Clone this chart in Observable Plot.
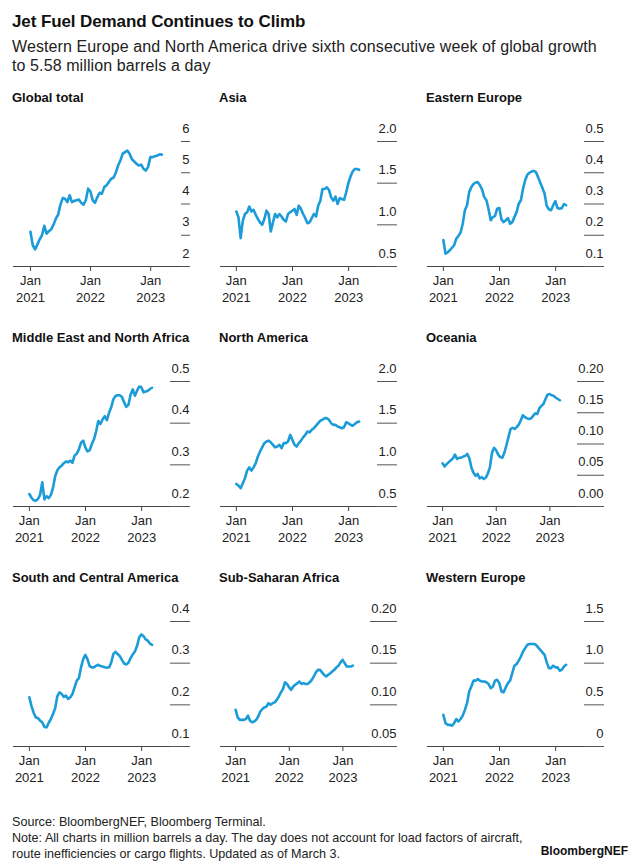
<!DOCTYPE html>
<html><head><meta charset="utf-8">
<script src="https://cdn.jsdelivr.net/npm/d3@7"></script>
<script src="https://cdn.jsdelivr.net/npm/@observablehq/plot@0.6"></script>
<style>
body{margin:0;background:#fff;}
#chart{position:relative;width:640px;height:865px;background:#fff;font-family:"Liberation Sans",Arial,sans-serif;color:#111;}
.abs{position:absolute;white-space:nowrap;}
</style></head>
<body><div id="chart"></div>
<script>
// ---- data (million barrels a day), biweekly readings from 1 Jan 2021 ----
const startDate = "2021-01-01";
const stepDays = 14;
const regionNames = ["Global total","Asia","Eastern Europe","Middle East and North Africa","North America","Oceania","South and Central America","Sub-Saharan Africa","Western Europe"];
const globalTotal = [3.11,2.68,2.55,2.70,2.87,3.00,3.30,3.05,3.13,3.19,3.34,3.53,3.66,3.98,4.19,4.17,4.06,4.28,4.06,4.10,4.12,4.14,4.04,3.98,4.12,4.49,4.40,4.12,4.04,4.22,4.36,4.33,4.54,4.60,4.70,4.81,4.84,5.00,5.23,5.39,5.61,5.66,5.71,5.61,5.43,5.36,5.29,5.23,5.26,5.13,5.07,5.18,5.50,5.50,5.53,5.55,5.59,5.58];
const asia = [1.16,1.09,0.84,1.05,1.13,1.15,1.22,1.16,1.18,1.12,1.07,1.03,1.00,1.07,1.17,1.13,0.92,1.03,1.13,1.09,1.13,1.10,1.06,1.04,1.13,1.15,1.17,1.19,1.12,1.23,1.19,1.13,1.08,1.02,1.03,1.08,1.13,1.10,1.23,1.29,1.43,1.43,1.45,1.42,1.33,1.29,1.34,1.25,1.32,1.31,1.30,1.39,1.50,1.58,1.64,1.67,1.67,1.66];
const easternEurope = [0.185,0.141,0.145,0.152,0.160,0.168,0.189,0.198,0.209,0.237,0.280,0.296,0.338,0.354,0.364,0.369,0.370,0.360,0.346,0.322,0.312,0.283,0.248,0.258,0.262,0.285,0.287,0.250,0.242,0.248,0.255,0.237,0.242,0.258,0.274,0.301,0.312,0.349,0.376,0.394,0.400,0.404,0.406,0.402,0.386,0.368,0.351,0.333,0.294,0.283,0.280,0.296,0.309,0.287,0.285,0.287,0.300,0.296];
const middleEastNorthAfrica = [0.230,0.221,0.215,0.214,0.218,0.228,0.258,0.217,0.225,0.220,0.228,0.245,0.273,0.287,0.294,0.298,0.304,0.308,0.306,0.310,0.305,0.322,0.327,0.337,0.353,0.358,0.342,0.332,0.335,0.350,0.361,0.380,0.405,0.398,0.409,0.417,0.407,0.425,0.438,0.457,0.465,0.467,0.467,0.463,0.450,0.439,0.444,0.468,0.481,0.466,0.478,0.488,0.486,0.474,0.476,0.478,0.482,0.485];
const northAmerica = [0.77,0.75,0.72,0.78,0.84,0.93,0.97,0.93,0.97,1.02,1.10,1.16,1.21,1.26,1.28,1.29,1.27,1.24,1.21,1.22,1.24,1.20,1.26,1.26,1.28,1.36,1.30,1.24,1.22,1.26,1.29,1.33,1.36,1.40,1.39,1.42,1.44,1.47,1.50,1.53,1.54,1.56,1.56,1.54,1.50,1.48,1.48,1.46,1.45,1.44,1.45,1.51,1.50,1.48,1.47,1.49,1.51,1.52];
const oceania = [0.069,0.064,0.068,0.071,0.074,0.077,0.083,0.076,0.078,0.078,0.080,0.081,0.084,0.077,0.062,0.054,0.049,0.052,0.045,0.047,0.044,0.046,0.053,0.063,0.086,0.094,0.090,0.083,0.079,0.078,0.086,0.098,0.111,0.124,0.126,0.124,0.127,0.131,0.138,0.146,0.143,0.141,0.140,0.141,0.145,0.149,0.148,0.157,0.161,0.164,0.172,0.179,0.180,0.178,0.177,0.174,0.172,0.170];
const southCentralAmerica = [0.218,0.197,0.181,0.170,0.168,0.162,0.158,0.147,0.146,0.157,0.166,0.178,0.192,0.221,0.230,0.226,0.219,0.222,0.214,0.218,0.226,0.242,0.258,0.264,0.290,0.310,0.320,0.309,0.293,0.290,0.290,0.294,0.296,0.293,0.292,0.290,0.289,0.290,0.301,0.322,0.327,0.322,0.317,0.308,0.299,0.297,0.301,0.312,0.321,0.328,0.341,0.362,0.369,0.365,0.357,0.354,0.347,0.344];
const subSaharanAfrica = [0.094,0.085,0.082,0.082,0.082,0.083,0.087,0.081,0.079,0.080,0.082,0.086,0.092,0.095,0.097,0.098,0.102,0.100,0.102,0.103,0.106,0.110,0.115,0.119,0.127,0.125,0.121,0.118,0.122,0.124,0.126,0.128,0.125,0.126,0.125,0.125,0.127,0.130,0.134,0.139,0.142,0.142,0.139,0.136,0.134,0.136,0.138,0.140,0.142,0.145,0.147,0.151,0.154,0.150,0.146,0.146,0.146,0.147];
const westernEurope = [0.38,0.28,0.26,0.26,0.25,0.28,0.33,0.30,0.33,0.37,0.44,0.52,0.66,0.72,0.79,0.79,0.81,0.79,0.78,0.78,0.77,0.75,0.70,0.72,0.79,0.80,0.76,0.66,0.65,0.71,0.76,0.79,0.88,0.97,0.99,1.03,1.08,1.14,1.18,1.22,1.23,1.23,1.23,1.22,1.19,1.16,1.13,1.10,1.01,0.94,0.94,0.97,0.95,0.95,0.91,0.92,0.96,0.98];
const yTickLabels = [
  ["2","3","4","5","6"],
  ["0.5","1.0","1.5","2.0"],
  ["0.1","0.2","0.3","0.4","0.5"],
  ["0.2","0.3","0.4","0.5"],
  ["0.5","1.0","1.5","2.0"],
  ["0.00","0.05","0.10","0.15","0.20"],
  ["0.1","0.2","0.3","0.4"],
  ["0.05","0.10","0.15","0.20"],
  ["0","0.5","1.0","1.5"]
];
const xTickYears = [2021, 2022, 2023];
const xTickMonth = "Jan";
const titleText = "Jet Fuel Demand Continues to Climb";
const subtitleLines = ["Western Europe and North America drive sixth consecutive week of global growth","to 5.58 million barrels a day"];
const footerLines = ["Source: BloombergNEF, Bloomberg Terminal.","Note: All charts in million barrels a day. The day does not account for load factors of aircraft,","route inefficiencies or cargo flights. Updated as of March 3."];
const brand = "BloombergNEF";

const series = [globalTotal, asia, easternEurope, middleEastNorthAfrica, northAmerica, oceania, southCentralAmerica, subSaharanAfrica, westernEurope];

// ---- layout ----
const FONT = '"Liberation Sans", Arial, sans-serif';
const chart = document.getElementById("chart");
function addDiv(html, style){ const d=document.createElement("div"); d.className="abs"; d.innerHTML=html; Object.assign(d.style, style); chart.appendChild(d); return d; }
addDiv(titleText, {left:"12px", top:"12px", fontWeight:"bold", fontSize:"17px", lineHeight:"20px", letterSpacing:"-0.1px"});
addDiv(subtitleLines.join("<br>"), {left:"12px", top:"37px", fontSize:"16px", lineHeight:"19px", letterSpacing:"0.1px", color:"#222"});
addDiv(footerLines.join("<br>"), {left:"12px", top:"814px", fontSize:"12.6px", lineHeight:"16px", color:"#222"});
addDiv(brand, {right:"12px", top:"843px", fontSize:"12px", lineHeight:"16px", fontWeight:"bold"});

const ctx = document.createElement("canvas").getContext("2d");
ctx.font = "13px " + FONT;
const dates = globalTotal.map((_, k) => d3.utcDay.offset(new Date(startDate), k * stepDays));
const xTicks = xTickYears.map(y => new Date(Date.UTC(y, 0, 1)));
const xDomain = [new Date(Date.UTC(2020, 8, 20)), new Date(Date.UTC(2023, 6, 1))];

series.forEach((vals, i) => {
  const col = i % 3, row = Math.floor(i / 3);
  const left = 13 + 207 * col;
  const top = 112 + 240 * row;
  addDiv(regionNames[i], {left: (left - 1) + "px", top: (90 + 240 * row) + "px", fontWeight:"bold", fontSize:"13px", lineHeight:"16px"});
  const labels = yTickLabels[i];
  const ticks = labels.map(Number);
  const labelW = Math.ceil(d3.max(labels, l => ctx.measureText(l).width)) + 1;
  const data = vals.map((v, k) => ({date: dates[k], value: v}));
  const svg = Plot.plot({
    width: 176, height: 200,
    marginLeft: 0, marginRight: labelW, marginTop: 29, marginBottom: 46,
    style: {overflow: "visible", fontFamily: FONT, fontSize: "13px", color: "#333", background: "transparent"},
    x: {type: "utc", domain: xDomain},
    y: {domain: [ticks[0], ticks[ticks.length - 1]]},
    marks: [
      // baseline running under the whole panel, including the tick-label column
      Plot.ruleY([ticks[0]], {stroke: "#444", strokeWidth: 1, insetRight: -labelW}),
      // tick lines to the right of the plot
      Plot.axisY(ticks, {anchor: "right", tickSize: labelW, tickFormat: () => "", label: null, stroke: "#555"}),
      // tick labels sitting above their tick lines
      Plot.text(labels, {y: d => +d, text: d => d, frameAnchor: "right", dx: labelW, dy: -13, textAnchor: "end", fill: "#222"}),
      // x ticks + two-line labels
      Plot.axisX(xTicks, {anchor: "bottom", tickSize: 5, tickFormat: () => "", label: null, stroke: "#444"}),
      Plot.text(xTicks, {x: d => d, text: () => xTickMonth, frameAnchor: "bottom", dy: 18, fill: "#222"}),
      Plot.text(xTicks, {x: d => d, text: d => String(d.getUTCFullYear()), frameAnchor: "bottom", dy: 35, fill: "#222"}),
      Plot.line(data, {x: "date", y: "value", stroke: "#1b9bd8", strokeWidth: 2.6, strokeLinejoin: "round", strokeLinecap: "round"})
    ]
  });
  const holder = addDiv("", {left: left + "px", top: top + "px", width: "176px", height: "200px"});
  holder.appendChild(svg);
});
</script></body></html>
